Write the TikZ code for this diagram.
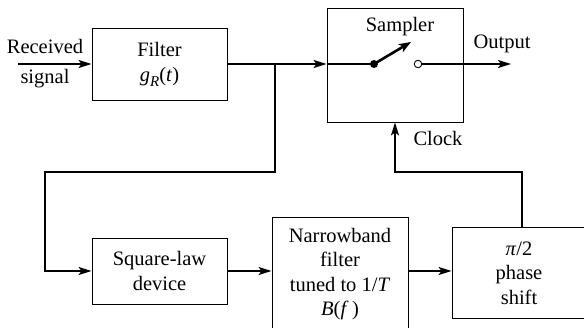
\documentclass[tikz,border=0pt]{standalone}
\usepackage{fontspec}
\setmainfont{Liberation Serif}
\usetikzlibrary{arrows.meta}
\begin{document}
\begin{tikzpicture}[x=1pt,y=-1pt,
  box/.style={draw,line width=0.9pt,inner sep=0pt,align=center},
  conn/.style={line width=1.8pt},
  arr/.style={conn,-{Stealth[length=13pt,width=8pt,inset=3pt]}},
  lbl/.style={inner sep=0pt,anchor=center},
  every node/.style={font=\fontsize{20.5}{24.5}\selectfont}]
\useasboundingbox (0,0) rectangle (584,327);
% boxes
\node[box,minimum width=135pt,minimum height=72pt] (filt) at (159.5,64) {Filter\\[1pt]\textit{g}\raisebox{-4.5pt}{\fontsize{15}{15}\selectfont\textit{R}}(\textit{t})};
\node[box,minimum width=136pt,minimum height=114pt] (samp) at (395,65) {};
\node[box,minimum width=135pt,minimum height=66pt] (sq) at (159.5,271) {Square-law\\device};
\node[box,minimum width=136pt,minimum height=114pt] (nb) at (340,274) {Narrowband\\filter\\tuned to 1/\textit{T}\\\textit{B}(\textit{f}\,)};
\node[box,minimum width=134pt,minimum height=91pt] (ph) at (519,273) {\textit{π}/2\\phase\\shift};
% labels
\node[lbl] (rec) at (45,46) {Received};
\node[lbl] (sig) at (45,79) {signal};
\node[lbl] (smpl) at (400,27) {Sampler};
\node[lbl] (out) at (502,44) {Output};
\node[lbl] (clk) at (438,138) {Clock};
% coordinates
\coordinate (in) at (18,64);
\coordinate (br) at (275,64);
\coordinate (dot) at (374,64);
\coordinate (tip) at (411,42);
\coordinate (oend) at (511,64);
\coordinate (phtop) at (522,227.5);
% connectors
\draw[arr] (in) -- (filt.west |- in);
\draw[arr] (filt.east |- br) -- (samp.west |- br);
\draw[conn] (samp.west |- br) -- (dot);
\draw[arr] (br) -- (275,172) -- (45,172) -- (45,271) -- (sq.west);
\draw[arr] (sq.east) -- (nb.west |- sq.east);
\draw[arr] (nb.east |- sq.east) -- (ph.west |- sq.east);
\draw[arr] (phtop) -- (522,172) -- (395,172) -- (samp.south);
% switch
\draw[line width=2.6pt,-{Stealth[length=12pt,width=9pt,inset=3pt]}] (dot) -- (tip);
\fill (dot) circle (4pt);
\node[circle,draw,line width=0.9pt,fill=white,minimum size=7.5pt,inner sep=0pt] (oc) at (418,64) {};
\draw[arr] (oc.east) -- (oend);
\end{tikzpicture}
\end{document}
